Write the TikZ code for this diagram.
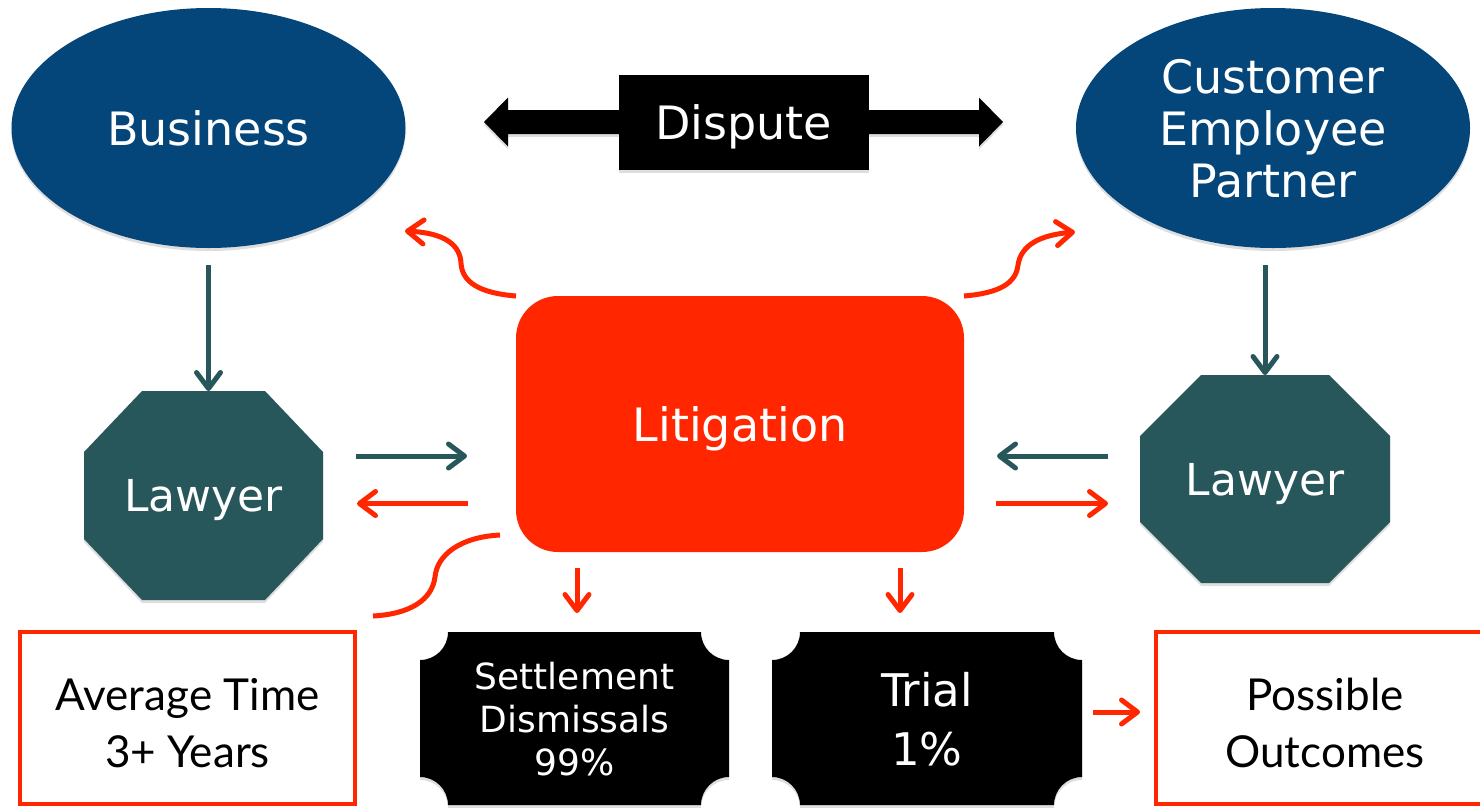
\documentclass[tikz,border=0pt]{standalone}
\usepackage{fontspec}
\newfontfamily\uisans{DejaVu Sans}
\newfontfamily\humsans{Lato}
\usetikzlibrary{arrows.meta,shapes.geometric}
\definecolor{navy}{RGB}{4,69,122}
\definecolor{slate}{RGB}{39,87,91}
\definecolor{flame}{RGB}{255,38,0}
\pgfdeclarelayer{shapes}
\pgfsetlayers{shapes,main}

% octagon fill behind a named node: node, horizontal cut, vertical cut
\newcommand\octagonfill[3]{%
  \begin{pgfonlayer}{shapes}
    \fill[slate, soft] ([xshift=#2]#1.north west) -- ([xshift=-#2]#1.north east)
      -- ([yshift=-#3]#1.north east) -- ([yshift=#3]#1.south east)
      -- ([xshift=-#2]#1.south east) -- ([xshift=#2]#1.south west)
      -- ([yshift=#3]#1.south west) -- ([yshift=-#3]#1.north west) -- cycle;
  \end{pgfonlayer}}

% ticket fill (concave corners) behind a named node: node, notch radius
\newcommand\ticketfill[2]{%
  \begin{pgfonlayer}{shapes}
    \fill[black, soft] ([xshift=#2]#1.north west) -- ([xshift=-#2]#1.north east)
      arc[start angle=180, end angle=270, radius=#2] -- ([yshift=#2]#1.south east)
      arc[start angle=90, end angle=180, radius=#2] -- ([xshift=#2]#1.south west)
      arc[start angle=0, end angle=90, radius=#2] -- ([yshift=-#2]#1.north west)
      arc[start angle=270, end angle=360, radius=#2] -- cycle;
  \end{pgfonlayer}}

\begin{document}
\begin{tikzpicture}[x=1pt, y=1pt,
  every node/.style={outer sep=0pt, inner sep=0pt, text depth=0pt},
  soft/.style={preaction={fill=black, fill opacity=0.13, transform canvas={yshift=-3pt}}},
  party/.style={ellipse, fill=navy, soft, text=white, minimum width=394pt, minimum height=240pt,
    align=center, font=\uisans\fontsize{46}{52}\selectfont},
  counsel/.style={rectangle, text=white, font=\uisans\fontsize{44}{52}\selectfont},
  ticket/.style={rectangle, text=white, align=center},
  outcome/.style={rectangle, draw=flame, line width=4.5pt, text=black, align=center,
    text height=98pt, font=\humsans\fontsize{44}{57}\selectfont},
  tip/.style={-{Straight Barb[length=16pt, width=24pt, round]}},
  tealarrow/.style={draw=slate, line width=5pt, tip},
  redarrow/.style={draw=flame, line width=5pt, tip},
  redline/.style={draw=flame, line width=5pt}
]
\path[use as bounding box] (0,0) rectangle (1480,-807);
\clip (0,0) rectangle (1480,-807);
\begin{pgfonlayer}{shapes}
  \fill[white] (0,0) rectangle (1480,-807);
\end{pgfonlayer}

% parties
\node[party] (bus) at (208.5,-128) {Business};
\node[party] (cust) at (1273,-128) {Customer\\Employee\\Partner};

% dispute banner with double-headed arrow
\fill[black, soft] (484,-122) -- (508,-97.5) -- (508,-110) -- (979,-110) -- (979,-97.5)
  -- (1003,-122) -- (979,-146.5) -- (979,-134) -- (508,-134) -- (508,-146.5) -- cycle;
\node[rectangle, fill=black, soft, text=white, minimum width=250pt, minimum height=95pt,
  font=\uisans\fontsize{46}{52}\selectfont] (disp) at (743.5,-122) {Dispute};

% litigation
\node[rectangle, rounded corners=42pt, fill=flame, text=white, minimum width=448pt,
  minimum height=256pt, font=\uisans\fontsize{46}{52}\selectfont] (lit) at (740,-424) {Litigation};

% lawyers
\node[counsel, minimum width=239pt, minimum height=209pt] (lawL) at (203.5,-495.5) {Lawyer};
\node[counsel, minimum width=250pt, minimum height=208pt] (lawR) at (1265,-479) {Lawyer};
\octagonfill{lawL}{58pt}{61pt}
\octagonfill{lawR}{61pt}{61pt}

% results
\node[ticket, minimum width=309pt, minimum height=173pt, font=\uisans\fontsize{36}{43}\selectfont]
  (settle) at (574.5,-718.5) {Settlement\\Dismissals\\99\%};
\node[ticket, minimum width=310pt, minimum height=173pt, font=\uisans\fontsize{45}{59}\selectfont]
  (trial) at (927,-718.5) {Trial\\1\%};
\ticketfill{settle}{28pt}
\ticketfill{trial}{28pt}

\node[outcome, minimum width=335pt, minimum height=172pt] (avg) at (187.5,-718) {Average Time\\3+ Years};
\node[outcome, minimum width=338pt, minimum height=172pt] (outc) at (1325,-718) {Possible\\Outcomes};

% connectors
\coordinate (upper) at (0,-456);
\coordinate (lower) at (0,-503.5);
\coordinate (level) at (0,-712);
\coordinate (dropS) at (577,0);
\coordinate (dropT) at (900,0);
\coordinate (toBus) at (405,-231);
\coordinate (toCust) at (1075,-232);
\coordinate (toAvg) at (373,-616);

\draw[tealarrow, shorten <=17pt] (bus.south) -- (bus.south |- lawL.north);
\draw[tealarrow, shorten <=17pt] (lawR.north |- cust.south) -- (lawR.north);

\draw[tealarrow, shorten <=33pt, shorten >=49pt] (lawL.east |- upper) -- (lit.west |- upper);
\draw[redarrow, shorten <=48pt, shorten >=34pt] (lit.west |- lower) -- (lawL.east |- lower);
\draw[tealarrow, shorten <=32pt, shorten >=33pt] (lawR.west |- upper) -- (lit.east |- upper);
\draw[redarrow, shorten <=32pt, shorten >=32pt] (lit.east |- lower) -- (lawR.west |- lower);

\draw[redarrow, shorten <=16pt, shorten >=19pt] (dropS |- lit.south) -- (dropS |- settle.north);
\draw[redarrow, shorten <=16pt, shorten >=19pt] (dropT |- lit.south) -- (dropT |- trial.north);
\draw[redarrow, shorten <=11pt, shorten >=16pt] (trial.east |- level) -- (outc.west |- level);

\draw[redarrow] (lit.north west) .. controls +(-37,3) and +(1,-19) .. (461,-263)
  .. controls +(-1,18) and +(40,-2) .. (toBus);
\draw[redarrow] (lit.north east) .. controls +(36,3) and +(-2,-18) .. (1018,-265)
  .. controls +(3,20) and +(-35,-3) .. (toCust);
\draw[redline] ([shift={(-16,17)}]lit.south west) .. controls +(-40,-2) and +(2,22) .. (435,-577)
  .. controls +(-3,-23) and +(37,2) .. (toAvg);
\end{tikzpicture}
\end{document}
